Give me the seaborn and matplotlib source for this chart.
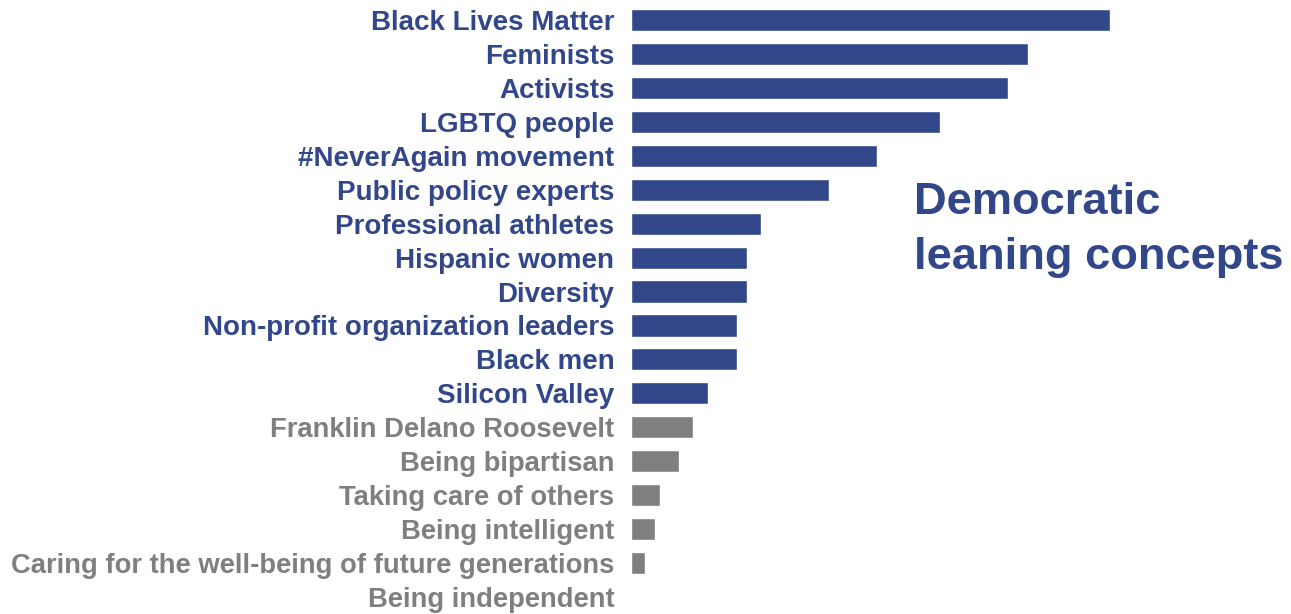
import matplotlib
matplotlib.use("Agg")
import matplotlib.pyplot as plt
import seaborn as sns
import pandas as pd

concepts = [
    "Black Lives Matter", "Feminists", "Activists", "LGBTQ people",
    "#NeverAgain movement", "Public policy experts", "Professional athletes",
    "Hispanic women", "Diversity", "Non-profit organization leaders",
    "Black men", "Silicon Valley", "Franklin Delano Roosevelt",
    "Being bipartisan", "Taking care of others", "Being intelligent",
    "Caring for the well-being of future generations", "Being independent",
]
lean = [478, 396, 376, 309, 246, 198, 130, 116, 116, 106,
        106, 77, 62, 48, 29, 24, 14, 0]
group = ["dem"] * 12 + ["other"] * 6

BLUE = "#32478a"
GRAY = "#7f7f7f"
palette = {"dem": BLUE, "other": GRAY}
label_size = {"dem": 20, "other": 19.7}

df = pd.DataFrame({"concept": concepts, "lean": lean, "group": group})

sns.set_theme(style="white")
plt.rcParams["font.family"] = ["Liberation Sans", "DejaVu Sans"]

fig = plt.figure(figsize=(12.91, 6.14), dpi=100)
ax = fig.add_axes([631 / 1291, 0.0, 1 - 631 / 1291, 1 - 3 / 614])

sns.barplot(data=df, y="concept", x="lean", hue="group", palette=palette,
            order=concepts, orient="h", width=0.65, dodge=False,
            legend=False, ax=ax, saturation=1)

ax.set_xlim(0, 659)
ax.set_ylim(len(concepts) - 0.5, -0.5)
ax.set_xlabel("")
ax.set_ylabel("")
ax.set_xticks([])
sns.despine(ax=ax, left=True, bottom=True, top=True, right=True)
ax.tick_params(axis="y", length=0, pad=12)
for lbl, g in zip(ax.get_yticklabels(), group):
    lbl.set_color(palette[g])
    lbl.set_fontweight("bold")
    lbl.set_fontsize(label_size[g])

fig.text(914 / 1291, 1 - 230 / 614, "Democratic\nleaning concepts",
         color=BLUE, fontsize=32.6, fontweight="bold", va="center", ha="left",
         linespacing=1.42)

fig.savefig("out.png", dpi=100)
